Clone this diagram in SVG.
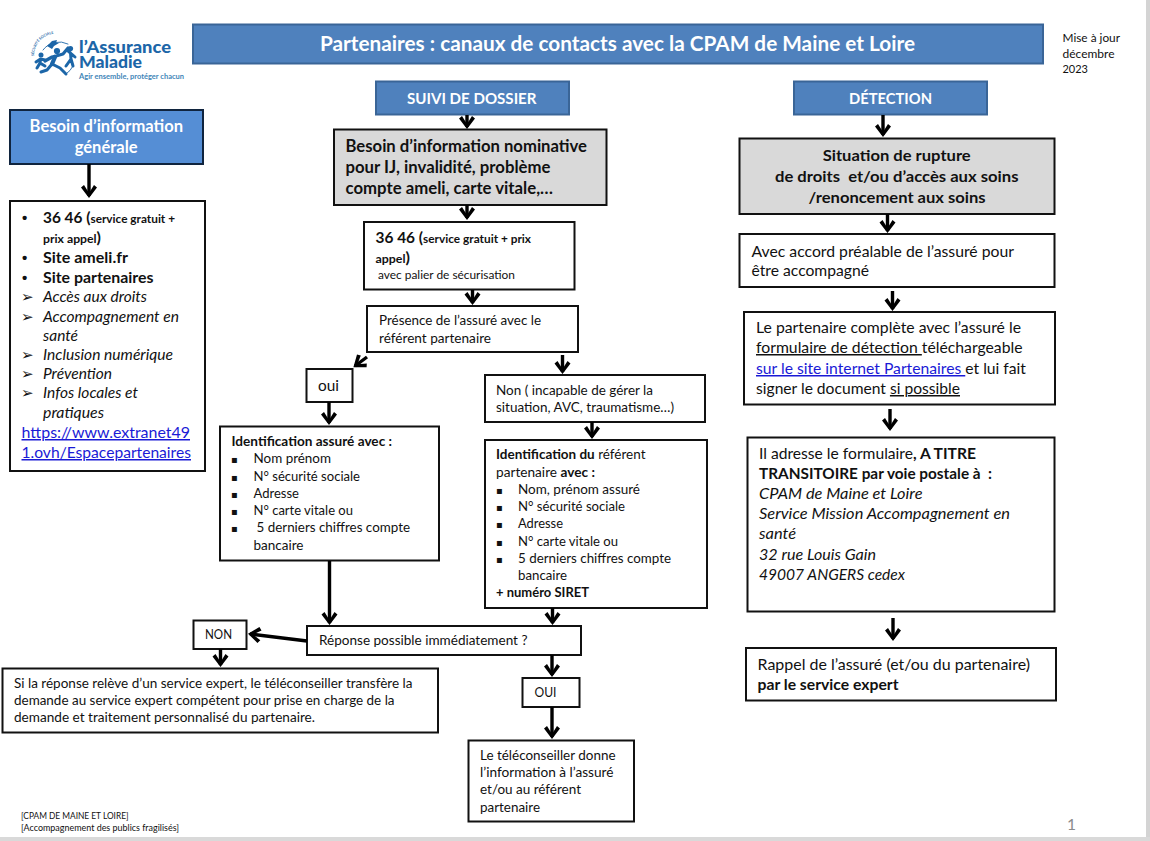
<svg xmlns="http://www.w3.org/2000/svg" width="1150" height="841" viewBox="0 0 1150 841">
<style>
text{font-family:"Lato","Noto Sans","Liberation Sans",sans-serif;fill:#111;font-size:13.5px}
.box{fill:#fff;stroke:#111;stroke-width:2}
.grey{fill:#d9d9d9;stroke:#111;stroke-width:2}
.head{fill:#4f81bd;stroke:#3a6597;stroke-width:2}
.blue{fill:#558ed5;stroke:#10243e;stroke-width:2}
.w{fill:#fff;font-weight:700}
.b{font-weight:700}
.i{font-style:italic}
.f15{font-size:15px}
.f16{font-size:16.5px}
.s{font-size:11.5px;font-weight:700}
.bu{font-family:"DejaVu Sans",sans-serif;font-size:10px}
.ar{font-family:"DejaVu Sans",sans-serif;font-size:15px}
.u{text-decoration:underline}
.lnk{fill:#1a1ad6;text-decoration:underline}
.c{fill:none;stroke:#000;stroke-width:3.4;marker-end:url(#a)}
.logo{fill:#1c66a8}
.lim{fill:none;stroke:#1c66a8;stroke-linecap:round;stroke-linejoin:round}
</style>
<defs>
<marker id="a" markerUnits="userSpaceOnUse" viewBox="-14 -10 16 20" refX="-2" refY="0" markerWidth="16" markerHeight="20" orient="auto"><path d="M0,0L-10.5,-8L-13,-5L-5,0L-13,5L-10.5,8Z" fill="#000"/></marker>
<path id="logoArc" d="M34,56A22,22 0 0 1 66,36"/>
</defs>
<rect width="1150" height="841" fill="#fff"/>
<rect x="1146" y="0" width="4" height="841" fill="#d4d4d4"/>
<rect x="0" y="837" width="1150" height="4" fill="#d9d9d9"/>

<g id="logo">
<path class="lim" stroke-width="0.9" d="M43,50A20,20 0 0 1 68,44"/>
<path class="lim" stroke-width="0.9" d="M73,66A21,21 0 0 1 66,74"/>
<text style="font-size:3.6px;font-weight:700;fill:#1c66a8"><textPath href="#logoArc">SÉCURITÉ SOCIALE</textPath></text>
<path class="logo" d="M47,46l5,-5l5,-1l-1,3l3,0l-5,3l-2,3z"/>
<circle class="logo" cx="57" cy="51" r="3.1"/>
<path class="lim" stroke-width="3.2" d="M45,61L52,57L56,56L63,54L68,48"/>
<path class="lim" stroke-width="4.2" d="M55,57L52,64"/>
<path class="lim" stroke-width="3" d="M52,64L47,70L41,72M52,64L60,68L66,74"/>
<circle class="logo" cx="41" cy="55" r="2.5"/>
<path class="lim" stroke-width="3" d="M40.5,59L40,63M40,63L37,68M40,63L45,66M40.5,59L36,62M40.5,59L45,60"/>
<circle class="logo" cx="70.5" cy="48.5" r="2.6"/>
<path class="lim" stroke-width="3" d="M70.5,53L71,59M71,59L66,66M71,59L73,66M70.5,53L75,57M70.5,53L67,50"/>
<text x="79" y="53" textLength="92" lengthAdjust="spacingAndGlyphs" style="font-size:17px;font-weight:900;fill:#1c66a8">l’Assurance</text>
<text x="79" y="68" textLength="63" lengthAdjust="spacingAndGlyphs" style="font-size:17px;font-weight:900;fill:#1c66a8">Maladie</text>
<text x="79" y="78.5" textLength="105" lengthAdjust="spacingAndGlyphs" style="font-size:7.5px;font-weight:700;fill:#3f86b8">Agir ensemble, protéger chacun</text>
</g>

<g id="title"><rect class="head" x="193" y="24.5" width="850" height="39"/>
<text class="w" x="320" y="51" textLength="595" lengthAdjust="spacingAndGlyphs" style="font-size:20px">Partenaires : canaux de contacts avec la CPAM de Maine et Loire</text></g>

<g id="maj">
<text x="1062.5" y="42" textLength="57.5" lengthAdjust="spacingAndGlyphs" style="font-size:12px">Mise à jour</text>
<text x="1062.5" y="57.5" textLength="52" lengthAdjust="spacingAndGlyphs" style="font-size:12px">décembre</text>
<text x="1062.5" y="73" textLength="25.5" lengthAdjust="spacingAndGlyphs" style="font-size:12px">2023</text>
</g>

<g id="suivi"><rect class="head" x="376" y="81.5" width="193" height="33"/>
<text class="w" x="407" y="104" textLength="129.5" lengthAdjust="spacingAndGlyphs" style="font-size:16px">SUIVI DE DOSSIER</text></g>
<g id="detection"><rect class="head" x="794" y="81.5" width="193" height="33"/>
<text class="w" x="849" y="104" textLength="83" lengthAdjust="spacingAndGlyphs" style="font-size:16px">DÉTECTION</text></g>

<g id="besoin-general"><rect class="blue" x="10" y="110" width="193" height="54"/>
<text class="w" x="29.6" y="132" textLength="153.5" lengthAdjust="spacingAndGlyphs" style="font-size:16.5px">Besoin d’information</text>
<text class="w" x="74.7" y="153" textLength="63" lengthAdjust="spacingAndGlyphs" style="font-size:16.5px">générale</text></g>

<g id="liste"><rect class="box" x="10" y="201" width="195" height="270"/>
<text x="22" y="223" class="f15 b" style="font-family:'Liberation Sans',sans-serif">•</text>
<text x="43" y="223" textLength="132" lengthAdjust="spacingAndGlyphs" class="f15 b">36 46 (<tspan class="s">service gratuit +</tspan></text>
<text x="43" y="243" textLength="58" lengthAdjust="spacingAndGlyphs" class="f15 b"><tspan class="s">prix appel</tspan>)</text>
<text x="22" y="263" class="f15 b" style="font-family:'Liberation Sans',sans-serif">•</text>
<text x="43" y="263" textLength="85" lengthAdjust="spacingAndGlyphs" class="f15 b">Site ameli.fr</text>
<text x="22" y="283" class="f15 b" style="font-family:'Liberation Sans',sans-serif">•</text>
<text x="43" y="283" textLength="110.5" lengthAdjust="spacingAndGlyphs" class="f15 b">Site partenaires</text>
<text class="ar" x="21" y="302">➢</text><text x="43" y="302" textLength="104" lengthAdjust="spacingAndGlyphs" class="f15 i">Accès aux droits</text>
<text class="ar" x="21" y="322">➢</text><text x="43" y="322" textLength="136" lengthAdjust="spacingAndGlyphs" class="f15 i">Accompagnement en</text>
<text x="43" y="341" textLength="35" lengthAdjust="spacingAndGlyphs" class="f15 i">santé</text>
<text class="ar" x="21" y="360">➢</text><text x="43" y="360" textLength="130" lengthAdjust="spacingAndGlyphs" class="f15 i">Inclusion numérique</text>
<text class="ar" x="21" y="379">➢</text><text x="43" y="379" textLength="69" lengthAdjust="spacingAndGlyphs" class="f15 i">Prévention</text>
<text class="ar" x="21" y="398">➢</text><text x="43" y="398" textLength="95" lengthAdjust="spacingAndGlyphs" class="f15 i">Infos locales et</text>
<text x="43" y="418" textLength="61" lengthAdjust="spacingAndGlyphs" class="f15 i">pratiques</text>
<text x="21.5" y="438" textLength="168.5" lengthAdjust="spacingAndGlyphs" class="f15 lnk">https://www.extranet49</text>
<text x="21.5" y="458" textLength="169.5" lengthAdjust="spacingAndGlyphs" class="f15 lnk">1.ovh/Espacepartenaires</text></g>

<g id="besoin-nominatif"><rect class="grey" x="334" y="129.5" width="272.5" height="75.5"/>
<text class="f16 b" x="345.5" y="152" textLength="241.5" lengthAdjust="spacingAndGlyphs">Besoin d’information nominative</text>
<text class="f16 b" x="345.5" y="173" textLength="205" lengthAdjust="spacingAndGlyphs">pour IJ, invalidité, problème</text>
<text class="f16 b" x="345.5" y="194" textLength="207.5" lengthAdjust="spacingAndGlyphs">compte ameli, carte vitale,…</text></g>

<g id="n3646"><rect class="box" x="364" y="222" width="210.5" height="67.5"/>
<text x="375.5" y="243" textLength="155.5" lengthAdjust="spacingAndGlyphs" class="f15 b">36 46 (<tspan class="s">service gratuit + prix</tspan></text>
<text x="375.5" y="263" textLength="34.5" lengthAdjust="spacingAndGlyphs" class="f15 b"><tspan class="s">appel</tspan>)</text>
<text x="378" y="279" textLength="137" lengthAdjust="spacingAndGlyphs" style="font-size:12px">avec palier de sécurisation</text></g>

<g id="presence"><rect class="box" x="367" y="306" width="211" height="46"/>
<text x="379" y="325" textLength="162" lengthAdjust="spacingAndGlyphs">Présence de l’assuré avec le</text>
<text x="379" y="343" textLength="112" lengthAdjust="spacingAndGlyphs">référent partenaire</text></g>

<g id="oui"><rect class="box" x="306.5" y="369" width="46" height="33"/>
<text x="318" y="391" textLength="21" lengthAdjust="spacingAndGlyphs" style="font-size:14.5px">oui</text></g>

<g id="non-incapable"><rect class="box" x="485" y="375" width="220" height="47"/>
<text x="496" y="395" textLength="157" lengthAdjust="spacingAndGlyphs">Non ( incapable de gérer la</text>
<text x="496" y="412" textLength="178" lengthAdjust="spacingAndGlyphs">situation, AVC, traumatisme…)</text></g>

<g id="id-assure"><rect class="box" x="220" y="426.5" width="219" height="134"/>
<text class="b" x="231.5" y="446" textLength="160.5" lengthAdjust="spacingAndGlyphs">Identification assuré avec :</text>
<text class="bu" x="231" y="463">▪</text><text x="253.5" y="463" textLength="77.5" lengthAdjust="spacingAndGlyphs">Nom prénom</text>
<text class="bu" x="231" y="481">▪</text><text x="253.5" y="481" textLength="106.5" lengthAdjust="spacingAndGlyphs">N° sécurité sociale</text>
<text class="bu" x="231" y="498">▪</text><text x="253.5" y="498" textLength="45.5" lengthAdjust="spacingAndGlyphs">Adresse</text>
<text class="bu" x="231" y="515">▪</text><text x="253.5" y="515" textLength="99.5" lengthAdjust="spacingAndGlyphs">N° carte vitale ou</text>
<text class="bu" x="231" y="532">▪</text><text x="256.5" y="532" textLength="153.5" lengthAdjust="spacingAndGlyphs">5 derniers chiffres compte</text>
<text x="253.5" y="550" textLength="50" lengthAdjust="spacingAndGlyphs">bancaire</text></g>

<g id="id-referent"><rect class="box" x="485" y="440" width="222" height="168"/>
<text x="496" y="459" textLength="149.5" lengthAdjust="spacingAndGlyphs"><tspan class="b">Identification du</tspan> référent</text>
<text x="496" y="477" textLength="99" lengthAdjust="spacingAndGlyphs">partenaire <tspan class="b">avec :</tspan></text>
<text class="bu" x="496" y="494">▪</text><text x="518" y="494" textLength="122" lengthAdjust="spacingAndGlyphs">Nom, prénom assuré</text>
<text class="bu" x="496" y="511">▪</text><text x="518" y="511" textLength="107" lengthAdjust="spacingAndGlyphs">N° sécurité sociale</text>
<text class="bu" x="496" y="528">▪</text><text x="518" y="528" textLength="45" lengthAdjust="spacingAndGlyphs">Adresse</text>
<text class="bu" x="496" y="546">▪</text><text x="518" y="546" textLength="100" lengthAdjust="spacingAndGlyphs">N° carte vitale ou</text>
<text class="bu" x="496" y="563">▪</text><text x="518" y="563" textLength="153" lengthAdjust="spacingAndGlyphs">5 derniers chiffres compte</text>
<text x="518" y="580" textLength="49" lengthAdjust="spacingAndGlyphs">bancaire</text>
<text class="b" x="496" y="597" textLength="93" lengthAdjust="spacingAndGlyphs">+ numéro SIRET</text></g>

<g id="reponse"><rect class="box" x="307" y="626" width="274" height="29"/>
<text x="319" y="645" textLength="208.5" lengthAdjust="spacingAndGlyphs">Réponse possible immédiatement ?</text></g>

<g id="non"><rect class="box" x="193.5" y="620.5" width="53" height="28.5"/>
<text x="205" y="639" textLength="27" lengthAdjust="spacingAndGlyphs">NON</text></g>

<g id="expert"><rect class="box" x="2.5" y="668.5" width="435.5" height="64"/>
<text x="14" y="688" textLength="398.5" lengthAdjust="spacingAndGlyphs">Si la réponse relève d’un service expert, le téléconseiller transfère la</text>
<text x="14" y="705" textLength="380.5" lengthAdjust="spacingAndGlyphs">demande au service expert compétent pour prise en charge de la</text>
<text x="14" y="722" textLength="301" lengthAdjust="spacingAndGlyphs">demande et traitement personnalisé du partenaire.</text></g>

<g id="oui2"><rect class="box" x="522.5" y="678" width="57" height="29"/>
<text x="534.5" y="697" textLength="22" lengthAdjust="spacingAndGlyphs">OUI</text></g>

<g id="teleconseiller"><rect class="box" x="468.5" y="740.5" width="165.5" height="81"/>
<text x="480" y="760" textLength="135.5" lengthAdjust="spacingAndGlyphs">Le téléconseiller donne</text>
<text x="480" y="777" textLength="133.5" lengthAdjust="spacingAndGlyphs">l’information à l’assuré</text>
<text x="480" y="794" textLength="101" lengthAdjust="spacingAndGlyphs">et/ou au référent</text>
<text x="480" y="812" textLength="60" lengthAdjust="spacingAndGlyphs">partenaire</text></g>

<g id="situation"><rect class="grey" x="739.5" y="138.5" width="315" height="75.5"/>
<text class="f15 b" x="822.7" y="161" textLength="148" lengthAdjust="spacingAndGlyphs">Situation de rupture</text>
<text class="f15 b" x="775" y="182" textLength="243.5" lengthAdjust="spacingAndGlyphs" xml:space="preserve">de droits  et/ou d’accès aux soins</text>
<text class="f15 b" x="808.6" y="203" textLength="177" lengthAdjust="spacingAndGlyphs">/renoncement aux soins</text></g>

<g id="accord"><rect class="box" x="739.5" y="234" width="315" height="53"/>
<text class="f15" x="751.5" y="257" textLength="262.5" lengthAdjust="spacingAndGlyphs">Avec accord préalable de l’assuré pour</text>
<text class="f15" x="751.5" y="276" textLength="117.5" lengthAdjust="spacingAndGlyphs">être accompagné</text></g>

<g id="formulaire"><rect class="box" x="744" y="312" width="311" height="92.5"/>
<text class="f15" x="756" y="333" textLength="265" lengthAdjust="spacingAndGlyphs">Le partenaire complète avec l’assuré le</text>
<text class="f15" x="756" y="353" textLength="266.5" lengthAdjust="spacingAndGlyphs" xml:space="preserve"><tspan class="u">formulaire de détection </tspan>téléchargeable</text>
<text class="f15" x="756" y="374" textLength="270" lengthAdjust="spacingAndGlyphs" xml:space="preserve"><tspan class="lnk">sur le site internet Partenaires </tspan>et lui fait</text>
<text class="f15" x="756" y="394" textLength="204" lengthAdjust="spacingAndGlyphs" xml:space="preserve">signer le document <tspan class="u">si possible</tspan></text></g>

<g id="adresse"><rect class="box" x="747.5" y="437.5" width="307" height="174"/>
<text class="f15" x="759" y="459" textLength="217" lengthAdjust="spacingAndGlyphs">Il adresse le formulaire<tspan class="b">, A TITRE</tspan></text>
<text class="f15 b" x="759" y="479" textLength="233" lengthAdjust="spacingAndGlyphs" xml:space="preserve">TRANSITOIRE par voie postale à  :</text>
<text class="f15 i" x="759" y="499" textLength="163.5" lengthAdjust="spacingAndGlyphs">CPAM de Maine et Loire</text>
<text class="f15 i" x="759" y="519" textLength="251" lengthAdjust="spacingAndGlyphs">Service Mission Accompagnement en</text>
<text class="f15 i" x="759" y="539" textLength="37" lengthAdjust="spacingAndGlyphs">santé</text>
<text class="f15 i" x="759" y="560" textLength="117" lengthAdjust="spacingAndGlyphs">32 rue Louis Gain</text>
<text class="f15 i" x="759" y="580" textLength="146" lengthAdjust="spacingAndGlyphs">49007 ANGERS cedex</text></g>

<g id="rappel"><rect class="box" x="746" y="648" width="310" height="52.5"/>
<text class="f15" x="757.5" y="670" textLength="272.5" lengthAdjust="spacingAndGlyphs">Rappel de l’assuré (et/ou du partenaire)</text>
<text class="f15 b" x="757.5" y="690" textLength="141" lengthAdjust="spacingAndGlyphs">par le service expert</text></g>

<g id="footer">
<text x="21" y="819" textLength="107.5" lengthAdjust="spacingAndGlyphs" style="font-size:8.5px">[CPAM DE MAINE ET LOIRE]</text>
<text x="21" y="831" textLength="158" lengthAdjust="spacingAndGlyphs" style="font-size:8.5px">[Accompagnement des publics fragilisés]</text>
<text x="1067" y="830" textLength="9" lengthAdjust="spacingAndGlyphs" style="font-size:16px;fill:#8a8a8a">1</text>
</g>

<g id="connectors">
<path class="c" d="M89,164V196"/>
<path class="c" d="M467,115V127"/>
<path class="c" d="M467,205V218"/>
<path class="c" d="M472.5,290V303"/>
<path class="c" d="M367,357L355,366"/>
<path class="c" d="M562.5,355V372"/>
<path class="c" d="M329,402V423"/>
<path class="c" d="M592,422V437"/>
<path class="c" d="M329.5,561V623"/>
<path class="c" d="M552.5,608V623"/>
<path class="c" d="M307,641L250,634"/>
<path class="c" d="M220.5,649V665"/>
<path class="c" d="M552,655V675"/>
<path class="c" d="M552,707V737"/>
<path class="c" d="M883,115V135"/>
<path class="c" d="M887.5,214V231"/>
<path class="c" d="M892.5,291V309"/>
<path class="c" d="M890,409V429"/>
<path class="c" d="M893,618V639"/>
</g>
</svg>
